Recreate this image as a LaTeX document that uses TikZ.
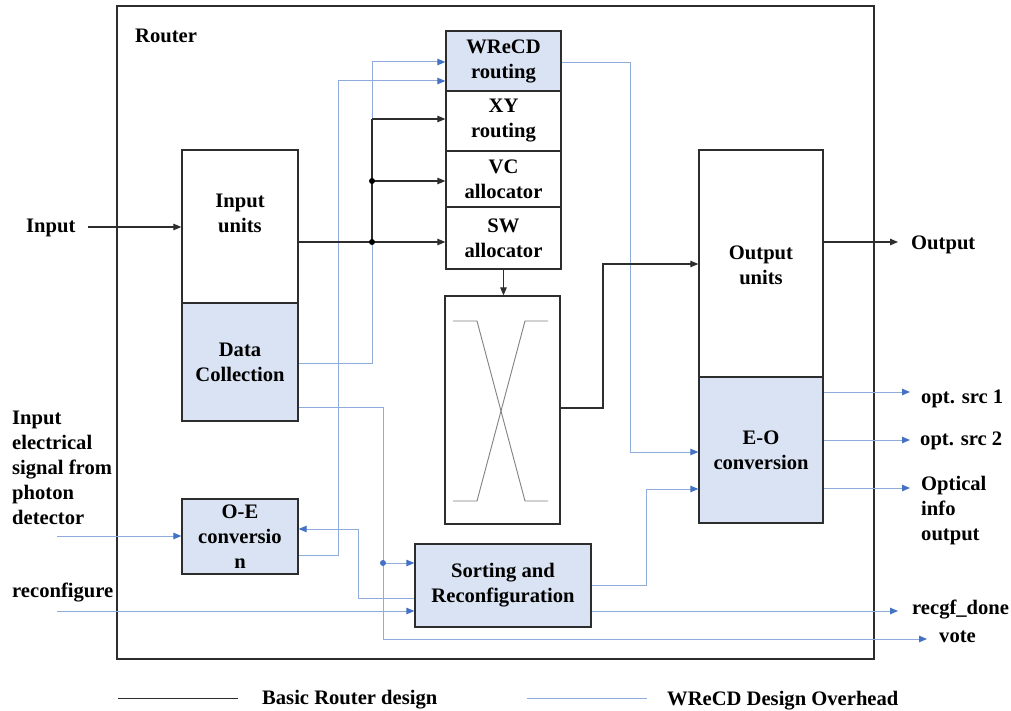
\documentclass[tikz,border=0pt]{standalone}
\usepackage{fontspec}
\setmainfont{Liberation Serif}
\usetikzlibrary{arrows.meta}
\definecolor{ovline}{RGB}{143,170,220}
\definecolor{ovtip}{RGB}{68,114,196}
\definecolor{ovfill}{RGB}{218,227,243}
\definecolor{edge}{RGB}{45,45,45}
\begin{document}
\begin{tikzpicture}[x=1pt,y=-1pt,
  font=\fontsize{20.6}{25}\selectfont\bfseries,
  box/.style={draw=edge, line width=1.3pt, inner sep=0pt, align=center},
  blk/.style={box, minimum width=#1pt},
  hbox/.style={minimum height=#1pt},
  ov/.style={draw=ovline, line width=1pt},
  ovarr/.style={ov, -{Triangle[length=8pt,width=6.5pt,color=ovtip]}},
  bar/.style={draw=edge, line width=1.1pt},
  barr/.style={bar, -{Triangle[length=8pt,width=6.5pt]}},
  lbl/.style={align=center, inner sep=0pt},
  txt/.style={inner sep=0pt, anchor=base west},
  dot/.style={circle, fill=#1, inner sep=0pt, minimum size=6pt},
]
\useasboundingbox (0,0) rectangle (1011,711);

% router frame and title
\node[box, line width=1.5pt, minimum width=757pt, minimum height=653pt] (router) at (495.5,332.5) {};
\node[txt] (rtitle) at (135,43) {Router};

% input side
\node[blk=116, hbox=153] (iu) at (240,226.5) {};
\node[lbl] (iutxt) at (240,213) {Input\\units};
\node[blk=116, hbox=118, fill=ovfill] (dc) at (240,362) {Data\\Collection};
\node[blk=116, hbox=75, fill=ovfill] (oe) at (240,536.5) {O-E\\conversio\\n};

% routing / allocation stack
\node[blk=115, hbox=60, fill=ovfill] (wr) at (503.5,61) {WReCD\\routing};
\node[blk=115, hbox=60] (xy) at (503.5,121) {XY\\routing};
\node[blk=115, hbox=56] (vc) at (503.5,179) {VC\\allocator};
\node[blk=115, hbox=62] (sw) at (503.5,238) {SW\\allocator};

% crossbar
\node[blk=115, hbox=228] (xbar) at (502.5,410) {};
\draw[gray, line width=0.9pt] (453,321) -- (477,321) -- (525,501) -- (548,501);
\draw[gray, line width=0.9pt] (548,321) -- (525,321) -- (477,501) -- (453,501);

% sorting and reconfiguration
\node[blk=176, hbox=83, fill=ovfill] (sort) at (503,585.5) {Sorting and\\Reconfiguration};

% output side
\node[blk=124, hbox=227] (ou) at (761,263.5) {};
\node[lbl] (outxt) at (761,265) {Output\\units};
\node[blk=124, hbox=146, fill=ovfill] (eo) at (761,450) {E-O\\conversion};

% external labels
\node[txt] (lin) at (26,233) {Input};
\node[lbl, align=left, anchor=west] (lph) at (12,468) {Input\\electrical\\signal from\\photon\\detector};
\node[txt] (lrc) at (12,597) {reconfigure};
\node[txt] (lout) at (911,250) {Output};
\node[txt] (ls1) at (921,403) {opt. src 1};
\node[txt] (ls2) at (920,445) {opt. src 2};
\node[lbl, align=left, anchor=west] (loi) at (921,511) {Optical\\info\\output};
\node[txt] (lrd) at (912,614) {recgf\_done};
\node[txt] (lvote) at (939,642) {vote};

% connector waypoints
\coordinate (inS) at (88,227);
\coordinate (j1) at (372,242);
\coordinate (j2) at (372,181);
\coordinate (j3) at (372,119);
\coordinate (k1) at (603,408);
\coordinate (k2) at (603,264);
\coordinate (outE) at (898,242);
\coordinate (b1) at (372,363);
\coordinate (b1t) at (372,62);
\coordinate (b2) at (338,555);
\coordinate (b2t) at (338,81);
\coordinate (b3) at (383,407);
\coordinate (b3d) at (383,563);
\coordinate (b3b) at (383,639);
\coordinate (voteE) at (927,639);
\coordinate (c1) at (358,598);
\coordinate (c2) at (358,529);
\coordinate (rcS) at (57,611);
\coordinate (phS) at (57,536);
\coordinate (d1) at (646,585);
\coordinate (d2) at (646,489);
\coordinate (rdE) at (898,611);
\coordinate (e1) at (630,63);
\coordinate (e2) at (630,452);
\coordinate (o1) at (910,392);
\coordinate (o2) at (910,440);
\coordinate (o3) at (910,488);

% WReCD overhead signals
\draw[ovarr] (dc.east |- b1) -- (b1) -- (b1t) -- (b1t -| wr.west);
\draw[ovarr] (oe.east |- b2) -- (b2) -- (b2t) -- (b2t -| wr.west);
\draw[ov] (dc.east |- b3) -- (b3) -- (b3b);
\draw[ovarr] (b3b) -- (voteE);
\draw[ovarr] (b3d) -- (b3d -| sort.west);
\node[dot=ovtip] (b3dot) at (b3d) {};
\draw[ovarr] (sort.west |- c1) -- (c1) -- (c2) -- (c2 -| oe.east);
\draw[ovarr] (rcS) -- (rcS -| sort.west);
\draw[ovarr] (phS) -- (phS -| oe.west);
\draw[ovarr] (sort.east |- d1) -- (d1) -- (d2) -- (d2 -| eo.west);
\draw[ovarr] (sort.east |- rdE) -- (rdE);
\draw[ovarr] (wr.east |- e1) -- (e1) -- (e2) -- (e2 -| eo.west);
\draw[ovarr] (eo.east |- o1) -- (o1);
\draw[ovarr] (eo.east |- o2) -- (o2);
\draw[ovarr] (eo.east |- o3) -- (o3);

% basic router datapath
\draw[barr] (inS) -- (inS -| iu.west);
\draw[bar] (iu.east |- j1) -- (j1);
\draw[bar] (j1) -- (j3);
\draw[barr] (j1) -- (j1 -| sw.west);
\draw[barr] (j2) -- (j2 -| vc.west);
\draw[barr] (j3) -- (j3 -| xy.west);
\node[dot=black] (j1dot) at (j1) {};
\node[dot=black] (j2dot) at (j2) {};
\draw[barr] (sw.south) -- (sw.south |- xbar.north);
\draw[barr] (xbar.east |- k1) -- (k1) -- (k2) -- (k2 -| ou.west);
\draw[barr] (ou.east |- outE) -- (outE);

% legend
\coordinate (lgA) at (118,698);
\coordinate (lgB) at (238,698);
\coordinate (lgC) at (527,698);
\coordinate (lgD) at (647,698);
\draw[bar, line width=0.8pt] (lgA) -- (lgB);
\node[txt] (lgbasic) at (262,704) {Basic Router design};
\draw[ov] (lgC) -- (lgD);
\node[txt] (lgov) at (667,705) {WReCD Design Overhead};
\end{tikzpicture}
\end{document}
